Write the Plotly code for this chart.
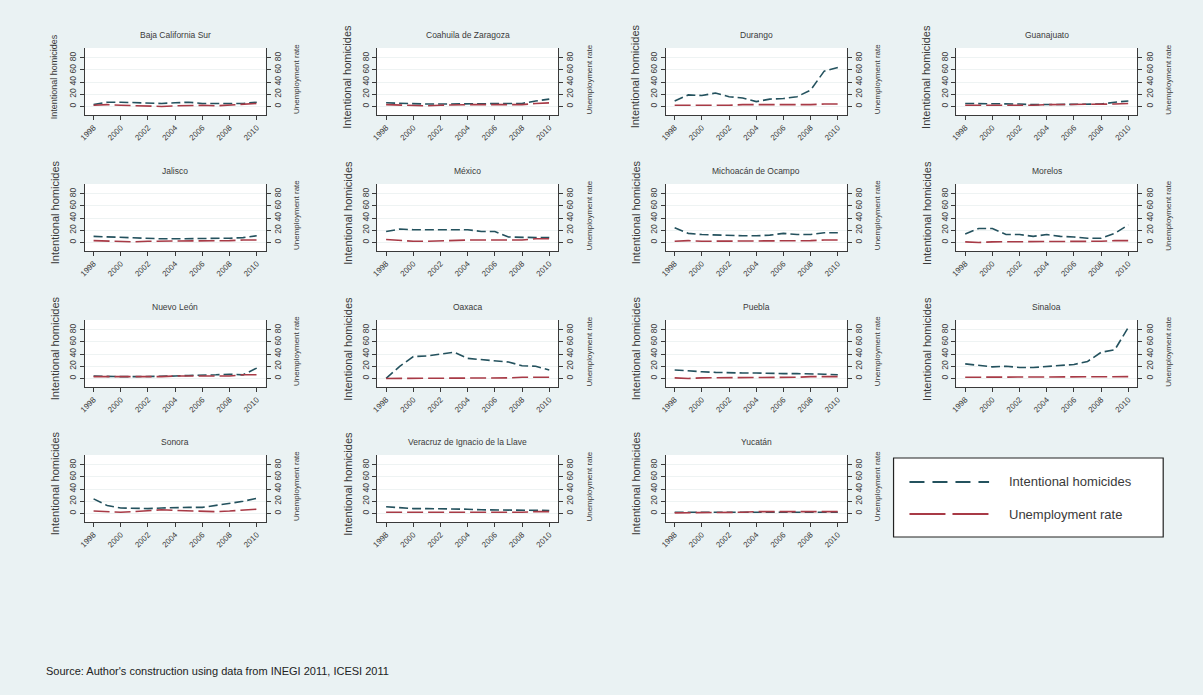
import plotly.graph_objects as go

W, H = 1203, 695

years = list(range(1998, 2011))
year_ticks = [1998, 2000, 2002, 2004, 2006, 2008, 2010]
y_ticks = [0, 20, 40, 60, 80]

states = [
    "Baja California Sur", "Coahuila de Zaragoza", "Durango", "Guanajuato",
    "Jalisco", "México", "Michoacán de Ocampo", "Morelos",
    "Nuevo León", "Oaxaca", "Puebla", "Sinaloa",
    "Sonora", "Veracruz de Ignacio de la Llave", "Yucatán",
]

# Intentional homicides per 100,000 inhabitants, 1998-2010
hom_bcs = [3, 7, 7, 6, 6, 5, 6, 7, 5, 5, 4, 5, 7]
hom_coahuila = [6, 5, 4, 4, 4, 4, 4, 5, 4, 5, 5, 9, 12]
hom_durango = [9, 19, 18, 22, 16, 14, 8, 12, 13, 16, 27, 58, 64]
hom_guanajuato = [5, 5, 4, 4, 4, 3, 3, 3, 4, 4, 4, 7, 9]
hom_jalisco = [10, 9, 9, 8, 7, 6, 6, 6, 6, 6, 7, 8, 11]
hom_mexico = [18, 22, 21, 21, 21, 20, 21, 18, 18, 9, 8, 8, 8]
hom_michoacan = [24, 15, 13, 12, 12, 11, 11, 12, 15, 13, 13, 16, 16]
hom_morelos = [14, 23, 23, 13, 13, 10, 13, 10, 9, 7, 7, 15, 29]
hom_nuevoleon = [4, 3, 3, 3, 3, 4, 4, 5, 5, 6, 7, 6, 17]
hom_oaxaca = [0, 20, 36, 37, 40, 43, 33, 31, 30, 27, 21, 20, 14]
hom_puebla = [14, 12, 11, 10, 9, 9, 9, 8, 8, 8, 8, 7, 6]
hom_sinaloa = [24, 21, 19, 20, 18, 18, 20, 22, 23, 28, 43, 47, 84]
hom_sonora = [24, 13, 9, 8, 8, 9, 10, 10, 10, 13, 16, 20, 25]
hom_veracruz = [11, 9, 8, 8, 8, 7, 7, 6, 6, 6, 6, 5, 5]
hom_yucatan = [2, 2, 2, 2, 2, 2, 2, 2, 2, 2, 2, 2, 2]

# Unemployment rate (%), 1998-2010
unemp_bcs = [2, 3, 2, 1, 1, 0, 1, 2, 2, 1, 2, 4, 5]
unemp_coahuila = [3, 2, 1, 1, 2, 3, 3, 3, 3, 3, 3, 5, 6]
unemp_durango = [2, 2, 1, 1, 2, 3, 3, 3, 3, 2, 3, 4, 4]
unemp_guanajuato = [2, 2, 2, 1, 2, 2, 3, 3, 3, 3, 3, 4, 5]
unemp_jalisco = [3, 2, 1, 1, 2, 2, 2, 2, 2, 2, 3, 4, 4]
unemp_mexico = [5, 3, 2, 2, 3, 3, 4, 4, 4, 3, 4, 6, 6]
unemp_michoacan = [2, 3, 2, 2, 2, 2, 3, 3, 3, 3, 3, 4, 4]
unemp_morelos = [1, 0, 1, 1, 1, 1, 2, 2, 2, 2, 2, 3, 3]
unemp_nuevoleon = [3, 3, 2, 2, 3, 3, 4, 4, 4, 4, 4, 6, 6]
unemp_oaxaca = [0, 0, 0, 1, 1, 1, 1, 1, 1, 1, 2, 2, 2]
unemp_puebla = [1, 0, 1, 1, 2, 1, 1, 2, 2, 2, 3, 3, 3]
unemp_sinaloa = [2, 2, 2, 2, 2, 2, 3, 3, 2, 2, 2, 3, 3]
unemp_sonora = [4, 3, 2, 3, 5, 6, 5, 4, 3, 3, 4, 6, 7]
unemp_veracruz = [2, 2, 1, 1, 1, 1, 2, 2, 2, 2, 2, 3, 3]
unemp_yucatan = [1, 1, 2, 2, 2, 2, 3, 3, 2, 2, 2, 3, 3]

homicides = [
    hom_bcs, hom_coahuila, hom_durango, hom_guanajuato,
    hom_jalisco, hom_mexico, hom_michoacan, hom_morelos,
    hom_nuevoleon, hom_oaxaca, hom_puebla, hom_sinaloa,
    hom_sonora, hom_veracruz, hom_yucatan,
]
unemployment = [
    unemp_bcs, unemp_coahuila, unemp_durango, unemp_guanajuato,
    unemp_jalisco, unemp_mexico, unemp_michoacan, unemp_morelos,
    unemp_nuevoleon, unemp_oaxaca, unemp_puebla, unemp_sinaloa,
    unemp_sonora, unemp_veracruz, unemp_yucatan,
]

FONT = "Arial, Liberation Sans, sans-serif"
BG = "#eaf2f3"
HOM_COLOR = "#24525e"
UNEMP_COLOR = "#a83a46"
TXT = "#3a3a3a"
AX = "#3a3a3a"

# panel geometry in pixels
col_left = [79, 373, 663, 955]
panel_w = 182
row_top = [48, 184, 320, 455]
panel_h = 67
y_range = [-14, 96]
x_range = [1997.34, 2010.66]


def px(x):
    return x / W


def py(y):
    return 1 - y / H


def axkey(prefix, n):
    return prefix if n == 1 else f"{prefix}{n}"


def axref(prefix, n):
    return prefix if n == 1 else f"{prefix}{n}"


fig = go.Figure()
layout = {}
annotations = []
N = len(states)

for i, name in enumerate(states):
    r, c = divmod(i, 4)
    n = i + 1
    nr = n + N
    x0, x1 = col_left[c], col_left[c] + panel_w
    yt, yb = row_top[r], row_top[r] + panel_h

    layout[axkey("xaxis", n)] = dict(
        domain=[px(x0), px(x1)], anchor=axref("y", n), range=x_range,
        tickvals=year_ticks, tickangle=-45, ticks="outside", ticklen=4,
        tickcolor=AX, showline=True, linecolor=AX, linewidth=1,
        showgrid=False, zeroline=False,
        tickfont=dict(size=8, color=TXT, family=FONT),
    )
    layout[axkey("yaxis", n)] = dict(
        domain=[py(yb), py(yt)], anchor=axref("x", n), range=y_range,
        tickvals=y_ticks, tickangle=-90, ticks="outside", ticklen=4,
        tickcolor=AX, showline=True, linecolor=AX, linewidth=1,
        showgrid=True, gridcolor="#eef3f3", gridwidth=1, zeroline=False,
        tickfont=dict(size=8.5, color=TXT, family=FONT),
    )
    layout[axkey("yaxis", nr)] = dict(
        overlaying=axref("y", n), side="right", anchor=axref("x", n),
        range=y_range, tickvals=y_ticks, tickangle=-90, ticks="outside",
        ticklen=4, tickcolor=AX, showline=True, linecolor=AX, linewidth=1,
        showgrid=False, zeroline=False,
        tickfont=dict(size=8.5, color=TXT, family=FONT),
    )

    fig.add_trace(go.Scatter(
        x=years, y=homicides[i], mode="lines", name="Intentional homicides",
        line=dict(color=HOM_COLOR, width=1.6, dash="9px,4px"),
        xaxis=axref("x", n), yaxis=axref("y", n), showlegend=False,
    ))
    fig.add_trace(go.Scatter(
        x=years, y=unemployment[i], mode="lines", name="Unemployment rate",
        line=dict(color=UNEMP_COLOR, width=1.6, dash="16px,5px"),
        xaxis=axref("x", n), yaxis=axref("y", nr), showlegend=False,
    ))

    # panel title
    annotations.append(dict(
        text=name, x=px((x0 + x1) / 2), y=py(yt - 6), xref="paper", yref="paper",
        xanchor="center", yanchor="bottom", showarrow=False,
        font=dict(size=8.5, color=TXT, family=FONT),
    ))
    # left axis title
    annotations.append(dict(
        text="Intentional homicides", x=px(x0 - 30), y=py((yt + yb) / 2 - 5),
        xref="paper", yref="paper", xanchor="center", yanchor="middle",
        textangle=-90, showarrow=False,
        font=dict(size=9 if i == 0 else 11, color=TXT, family=FONT),
    ))
    # right axis title
    annotations.append(dict(
        text="Unemployment rate", x=px(x1 + 31), y=py((yt + yb) / 2 - 2),
        xref="paper", yref="paper", xanchor="center", yanchor="middle",
        textangle=-90, showarrow=False,
        font=dict(size=8, color=TXT, family=FONT),
    ))

# legend box
shapes = [
    dict(type="rect", xref="paper", yref="paper",
         x0=px(892), x1=px(1163), y0=py(537), y1=py(458),
         fillcolor="white", line=dict(color="#222222", width=1.2)),
    dict(type="line", xref="paper", yref="paper",
         x0=px(908), x1=px(988), y0=py(482), y1=py(482),
         line=dict(color=HOM_COLOR, width=2, dash="15px,8px")),
    dict(type="line", xref="paper", yref="paper",
         x0=px(908), x1=px(988), y0=py(514), y1=py(514),
         line=dict(color=UNEMP_COLOR, width=2, dash="36px,7px")),
]
annotations.append(dict(
    text="Intentional homicides", x=px(1006), y=py(482), xref="paper",
    yref="paper", xanchor="left", yanchor="middle", showarrow=False,
    font=dict(size=13, color=TXT, family=FONT),
))
annotations.append(dict(
    text="Unemployment rate", x=px(1006), y=py(514), xref="paper",
    yref="paper", xanchor="left", yanchor="middle", showarrow=False,
    font=dict(size=13, color=TXT, family=FONT),
))

# source note
annotations.append(dict(
    text="Source: Author's construction using data from INEGI 2011, ICESI 2011",
    x=px(38), y=py(671), xref="paper", yref="paper", xanchor="left",
    yanchor="middle", showarrow=False,
    font=dict(size=11, color="#222222", family=FONT),
))

fig.update_layout(
    width=W, height=H, margin=dict(l=0, r=0, t=0, b=0),
    paper_bgcolor=BG, plot_bgcolor="white",
    font=dict(family=FONT, color=TXT),
    showlegend=False, annotations=annotations, shapes=shapes,
    **layout,
)

fig.write_html("out.html")
